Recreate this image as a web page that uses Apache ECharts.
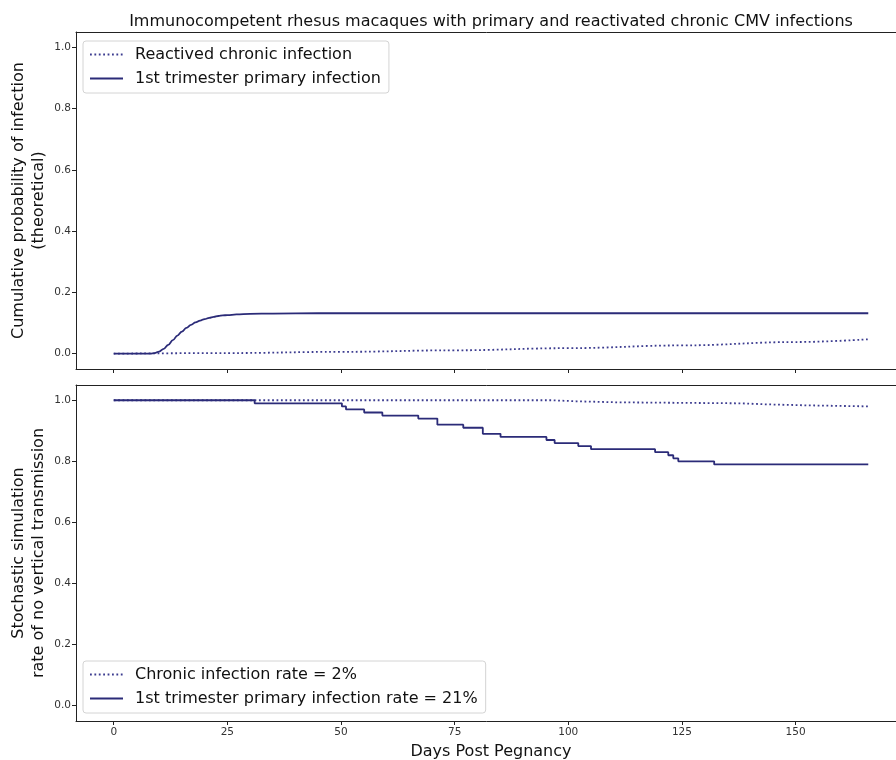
<!DOCTYPE html>
<html>
<head>
<meta charset="utf-8">
<script src="https://cdn.jsdelivr.net/npm/echarts@6/dist/echarts.min.js"></script>
<style>
  html, body { margin: 0; padding: 0; background: #fff; }
  #chart { width: 896px; height: 760px; }
</style>
</head>
<body>
<div id="chart"></div>
<script>
// ---------- data ----------
const xTicks = [0, 25, 50, 75, 100, 125, 150];
const yTicks = [0, 0.2, 0.4, 0.6, 0.8, 1.0];

// Top panel: theoretical cumulative probability
const primaryTheoryDays   = [0, 5, 8, 9, 10, 11, 12, 13, 14, 15, 16, 17, 18, 19, 20, 21, 22, 23, 24, 25, 27, 30, 35, 45, 166];
const primaryTheoryValues = [0, 0, 0.0005, 0.002, 0.007, 0.016, 0.029, 0.044, 0.059, 0.072, 0.084, 0.094, 0.102, 0.108, 0.113, 0.117, 0.120, 0.123, 0.125, 0.126, 0.128, 0.130, 0.131, 0.132, 0.132];
const chronicTheoryDays   = [0, 25, 50, 75, 100, 125, 150, 166];
const chronicTheoryValues = [0, 0.002, 0.006, 0.011, 0.018, 0.027, 0.038, 0.047];

// Bottom panel: stochastic simulation (step functions)
const simPrimaryDays   = [0, 31.0, 50.2, 51.1, 55.1, 59.1, 67.0, 71.2, 76.9, 81.2, 85.1, 95.2, 97.0, 102.2, 105.0, 119.1, 122.0, 123.1, 124.2, 132.1, 166];
const simPrimaryValues = [1.00, 0.99, 0.98, 0.97, 0.96, 0.95, 0.94, 0.92, 0.91, 0.89, 0.88, 0.87, 0.86, 0.85, 0.84, 0.83, 0.82, 0.81, 0.80, 0.79, 0.79];
const simChronicDays   = [0, 96.3, 101.8, 110.6, 138.0, 143.5, 152.6, 166];
const simChronicValues = [1.0, 0.9967, 0.9933, 0.99, 0.9867, 0.9833, 0.98, 0.98];

const topNames    = ['Reactived chronic infection', '1st trimester primary infection'];
const bottomNames = ['Chronic infection rate = 2%', '1st trimester primary infection rate = 21%'];

const titleText = 'Immunocompetent rhesus macaques with primary and reactivated chronic CMV infections';
const topYName = 'Cumulative probability of infection\n(theoretical)';
const bottomYName = 'Stochastic simulation\nrate of no vertical transmission';
const xName = 'Days Post Pegnancy';

// ---------- helpers ----------
const zip = (a, b) => a.map((v, i) => [v, b[i]]);
const FONT = 'DejaVu Sans';
const SOLID = '#2b2b78';
const DOT = '#3c3c90';
const AX = '#222';

function xAxisCfg(gridIndex, showLabels) {
  return {
    type: 'value', gridIndex, min: -8.3, max: 174.3, position: 'bottom',
    axisLine: { show: true, onZero: false, lineStyle: { color: AX, width: 1 } },
    axisTick: { show: true, length: 4, customValues: xTicks, lineStyle: { color: AX } },
    axisLabel: { show: showLabels, customValues: xTicks, margin: 6, fontFamily: FONT, fontSize: 10.5, color: '#333' },
    splitLine: { show: false },
    name: showLabels ? xName : '', nameLocation: 'middle', nameGap: 23,
    nameTextStyle: { fontFamily: FONT, fontSize: 16, color: '#111' }
  };
}
function topSpine(gridIndex) {
  return {
    type: 'value', gridIndex, min: -8.3, max: 174.3, position: 'top',
    axisLine: { show: true, onZero: false, lineStyle: { color: AX, width: 1 } },
    axisTick: { show: false }, axisLabel: { show: false }, splitLine: { show: false }
  };
}
function yAxisCfg(gridIndex, name) {
  return {
    type: 'value', gridIndex, min: -0.05, max: 1.05,
    axisLine: { show: true, onZero: false, lineStyle: { color: AX, width: 1 } },
    axisTick: { show: true, length: 4, customValues: yTicks, lineStyle: { color: AX } },
    axisLabel: { customValues: yTicks, margin: 5, fontFamily: FONT, fontSize: 10.5, color: '#333',
      formatter: v => v.toFixed(1) },
    splitLine: { show: false },
    name, nameLocation: 'middle', nameRotate: 90, nameGap: 27, nameMoveOverlap: false,
    nameTextStyle: { fontFamily: FONT, fontSize: 16, color: '#111', lineHeight: 20, align: 'center' }
  };
}
function legendCfg(top, names) {
  return {
    orient: 'vertical', left: 83, top,
    data: names,
    backgroundColor: 'rgba(255,255,255,0.85)',
    borderColor: '#d4d4d4', borderWidth: 1, borderRadius: 3,
    padding: [4, 8, 5, 6],
    itemWidth: 33, itemHeight: 14, itemGap: 5,
    itemStyle: { opacity: 0 },
    textStyle: { fontFamily: FONT, fontSize: 16, color: '#111', lineHeight: 19, padding: [0, 0, 0, 7] }
  };
}

const option = {
  backgroundColor: '#fff',
  animation: false,
  title: {
    text: titleText, left: 486, top: 9, textAlign: 'center',
    textStyle: { fontFamily: FONT, fontSize: 16, fontWeight: 'normal', color: '#111' }
  },
  grid: [
    { left: 76, top: 32, width: 830, height: 337, outerBoundsMode: 'none', containLabel: false },
    { left: 76, top: 385, width: 830, height: 336, outerBoundsMode: 'none', containLabel: false }
  ],
  xAxis: [xAxisCfg(0, false), xAxisCfg(1, true), topSpine(0), topSpine(1)],
  yAxis: [yAxisCfg(0, topYName), yAxisCfg(1, bottomYName)],
  legend: [legendCfg(41, topNames), legendCfg(661, bottomNames)],
  series: [
    {
      name: topNames[0], type: 'line', xAxisIndex: 0, yAxisIndex: 0,
      data: zip(chronicTheoryDays, chronicTheoryValues), smooth: 0.4, smoothMonotone: 'x',
      symbol: 'none', lineStyle: { color: DOT, width: 1.8, type: [1.8, 2.6] }, itemStyle: { color: DOT }
    },
    {
      name: topNames[1], type: 'line', xAxisIndex: 0, yAxisIndex: 0,
      data: zip(primaryTheoryDays, primaryTheoryValues), smooth: 0.4, smoothMonotone: 'x',
      symbol: 'none', lineStyle: { color: SOLID, width: 1.8 }, itemStyle: { color: SOLID }
    },
    {
      name: bottomNames[0], type: 'line', xAxisIndex: 1, yAxisIndex: 1,
      data: zip(simChronicDays, simChronicValues), step: 'end',
      symbol: 'none', lineStyle: { color: DOT, width: 1.8, type: [1.8, 2.6] }, itemStyle: { color: DOT }
    },
    {
      name: bottomNames[1], type: 'line', xAxisIndex: 1, yAxisIndex: 1,
      data: zip(simPrimaryDays, simPrimaryValues), step: 'end',
      symbol: 'none', lineStyle: { color: SOLID, width: 1.8 }, itemStyle: { color: SOLID }
    }
  ]
};

const chart = echarts.init(document.getElementById('chart'), null, { renderer: 'canvas' });
chart.setOption(option);
</script>
</body>
</html>
